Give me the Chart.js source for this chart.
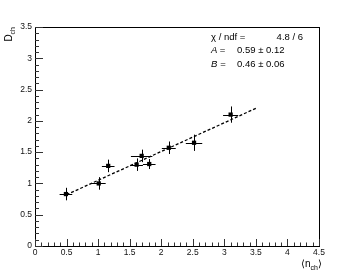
<!DOCTYPE html>
<html>
<head>
<meta charset="utf-8">
<script src="https://cdn.jsdelivr.net/npm/chart.js@4/dist/chart.umd.min.js"></script>
<style>
html, body { margin: 0; padding: 0; background: #fff; }
canvas { display: block; }
</style>
</head>
<body>
<canvas id="chart" width="355" height="274"></canvas>
<script>
// points mesurés : <n_ch> et D_ch
const nch = [0.49, 1.01, 1.16, 1.61, 1.69, 1.81, 2.12, 2.52, 3.10];
const dch = [0.83, 1.00, 1.28, 1.30, 1.44, 1.31, 1.57, 1.65, 2.10];
// erreurs
const nchErr = [0.10, 0.11, 0.10, 0.10, 0.17, 0.10, 0.11, 0.13, 0.12];
const dchErr = [0.10, 0.10, 0.10, 0.10, 0.10, 0.08, 0.10, 0.13, 0.13];

// droite ajustée (extrémités)
const fitX = [0.5, 3.5];
const fitY = [0.82, 2.20];

// boîte de stats
const statLabels = ["χ / ndf =", "A =", "B ="];
const statValues = ["4.8 / 6", "0.59 ± 0.12", "0.46 ± 0.06"];

const FONT = "'Liberation Sans', Arial, sans-serif";

// barres d'erreur, dessinées avant les marqueurs
const errorBars = {
    id: "errorBars",
    beforeDatasetsDraw(chart) {
        const ctx = chart.ctx;
        const xs = chart.scales.x;
        const ys = chart.scales.y;
        ctx.save();
        ctx.strokeStyle = "#000";
        ctx.lineWidth = 1;
        nch.forEach((x, i) => {
            const px = xs.getPixelForValue(x);
            const py = ys.getPixelForValue(dch[i]);
            const x0 = xs.getPixelForValue(x - nchErr[i]);
            const x1 = xs.getPixelForValue(x + nchErr[i]);
            const y0 = ys.getPixelForValue(dch[i] - dchErr[i]);
            const y1 = ys.getPixelForValue(dch[i] + dchErr[i]);
            ctx.beginPath();
            ctx.moveTo(x0, Math.round(py) + 0.5);
            ctx.lineTo(x1, Math.round(py) + 0.5);
            ctx.moveTo(Math.round(px) + 0.5, y0);
            ctx.lineTo(Math.round(px) + 0.5, y1);
            ctx.stroke();
        });
        ctx.restore();
    }
};

// cadre, graduations style ROOT, titres et boîte de stats
const frame = {
    id: "frame",
    afterDraw(chart) {
        const ctx = chart.ctx;
        const a = chart.chartArea;
        const xs = chart.scales.x;
        const ys = chart.scales.y;
        ctx.save();
        ctx.strokeStyle = "#000";
        ctx.lineWidth = 1;
        ctx.strokeRect(Math.round(a.left) + 0.5, Math.round(a.top) + 0.5,
            Math.round(a.right - a.left), Math.round(a.bottom - a.top));

        ctx.strokeStyle = "#333";
        ctx.beginPath();
        for (let i = 0; i <= 35; i++) {
            const y = Math.round(ys.getPixelForValue(i / 10)) + 0.5;
            const len = i % 5 === 0 ? 8 : 4;
            ctx.moveTo(a.left, y);
            ctx.lineTo(a.left + len, y);
        }
        for (let i = 0; i <= 45; i++) {
            const x = Math.round(xs.getPixelForValue(i / 10)) + 0.5;
            const len = i % 5 === 0 ? 7 : 3.5;
            ctx.moveTo(x, a.bottom);
            ctx.lineTo(x, a.bottom - len);
        }
        ctx.stroke();

        ctx.fillStyle = "#000";
        // titre x : <n_ch>
        ctx.textBaseline = "alphabetic";
        ctx.textAlign = "left";
        ctx.font = "10px " + FONT;
        let tx = a.right - 18;
        const ty = 267;
        ctx.fillText("⟨n", tx, ty);
        tx += ctx.measureText("⟨n").width;
        ctx.font = "7px " + FONT;
        ctx.fillText("ch", tx, ty + 3);
        tx += ctx.measureText("ch").width;
        ctx.font = "10px " + FONT;
        ctx.fillText("⟩", tx, ty);

        // titre y : D_ch
        ctx.save();
        ctx.translate(12, a.top);
        ctx.rotate(-Math.PI / 2);
        ctx.textAlign = "right";
        ctx.font = "7px " + FONT;
        ctx.fillText("ch", 0, 3);
        const w = ctx.measureText("ch").width;
        ctx.font = "10px " + FONT;
        ctx.fillText("D", -w, 0);
        ctx.restore();

        // boîte de stats
        ctx.textBaseline = "middle";
        const rows = [a.top + 10, a.top + 23, a.top + 37];
        statLabels.forEach((lab, i) => {
            ctx.font = (i === 0 ? "" : "italic ") + "9.5px " + FONT;
            ctx.textAlign = "left";
            if (i === 0) {
                ctx.fillText(lab, 211, rows[i]);
            } else {
                ctx.fillText(lab.charAt(0), 211, rows[i]);
                ctx.font = "9.5px " + FONT;
                ctx.fillText(" =", 211 + (i === 1 ? 6 : 6.5), rows[i]);
            }
            ctx.font = "9.5px " + FONT;
            if (i === 0) {
                ctx.textAlign = "right";
                ctx.fillText(statValues[i], 303, rows[i]);
            } else {
                ctx.fillText(statValues[i], 237, rows[i]);
            }
        });
        ctx.restore();
    }
};

new Chart(document.getElementById("chart"), {
    type: "scatter",
    data: {
        datasets: [
            {
                label: "fit",
                type: "line",
                data: fitX.map((x, i) => ({ x: x, y: fitY[i] })),
                borderColor: "#000",
                borderWidth: 1.3,
                borderDash: [3, 2],
                pointRadius: 0,
                fill: false
            },
            {
                label: "data",
                data: nch.map((x, i) => ({ x: x, y: dch[i] })),
                pointStyle: "rect",
                pointRadius: 3,
                backgroundColor: "#000",
                borderColor: "#000",
                borderWidth: 0
            }
        ]
    },
    options: {
        responsive: false,
        animation: false,
        layout: { padding: { top: 27, right: 36, left: 0, bottom: 0 } },
        plugins: {
            legend: { display: false },
            tooltip: { enabled: false }
        },
        scales: {
            x: {
                type: "linear",
                min: 0,
                max: 4.5,
                grid: { display: false, drawTicks: false },
                border: { display: false },
                ticks: {
                    stepSize: 0.5,
                    padding: 2,
                    maxRotation: 0,
                    autoSkip: false,
                    color: "#111",
                    font: { family: FONT, size: 8.5 },
                    callback: v => String(v)
                },
                afterFit: s => { s.height = 28; }
            },
            y: {
                min: 0,
                max: 3.5,
                grid: { display: false, drawTicks: false },
                border: { display: false },
                ticks: {
                    stepSize: 0.5,
                    padding: 3,
                    autoSkip: false,
                    color: "#111",
                    font: { family: FONT, size: 8.5 },
                    callback: v => String(v)
                },
                afterFit: s => { s.width = 35; }
            }
        }
    },
    plugins: [errorBars, frame]
});
</script>
</body>
</html>
